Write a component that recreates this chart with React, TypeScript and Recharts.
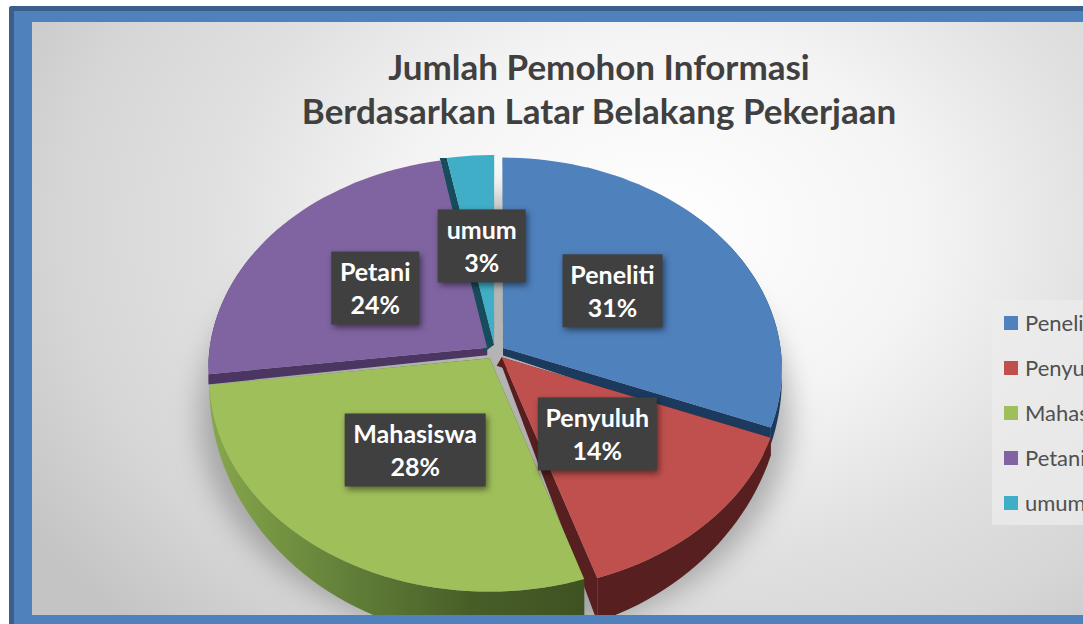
import React from "react";
import { PieChart, Pie, Legend } from "recharts";

const categories = ["Peneliti", "Penyuluh", "Mahasiswa", "Petani", "umum"];
const values = [31, 14, 28, 24, 3];
const topColors = ["#4f81bd", "#c0504d", "#9fbf5b", "#8064a2", "#41aec8"];
const wallColors = ["#1c3a5e", "#571f20", "url(#greenWall)", "#4a3660", "#164c5c"];
const labelBoxWidths = [100, 119, 141, 88, 88];
const labelNudgeX = [-2, -3.5, 3.5, -3, 0];
const labelNudgeY = [0, -3, -1, 0, 0];
const apexWallShift = [0, -5, 0, 0, -10];
const tipWallShift = [0, 0, 0, 0, -7];
const titleLines = ["Jumlah Pemohon Informasi", "Berdasarkan Latar Belakang Pekerjaan"];

const data = categories.map((name, i) => ({ name, value: values[i], fill: topColors[i] }));

const FONT = "Lato, 'Open Sans', sans-serif";
const TILT = 0.7536; // vertical squash of the disc
const PERSPECTIVE = 0.097;
const EXPLODE = 0.035;
const DEPTH = 45;
const STEP = 2; // degrees between arc samples

type Pt = [number, number];

// Disc coordinates (u to the right, v toward the viewer) into screen pixels.
function project(cx: number, cy: number, R: number, u: number, v: number, down: boolean): Pt {
  const w = 1 - PERSPECTIVE * v;
  const t = Math.max(0, (v + 1) / 2);
  return [cx + (R * u) / w, cy + (R * TILT * v) / w + (down ? DEPTH * Math.pow(t, 2.5) : 0)];
}

function discPoint(theta: number, rho: number, mid: number): [number, number] {
  const a = (theta * Math.PI) / 180;
  const m = (mid * Math.PI) / 180;
  return [rho * Math.sin(a) + EXPLODE * Math.sin(m), -rho * Math.cos(a) - EXPLODE * Math.cos(m)];
}

function pathOf(points: Pt[]): string {
  return "M" + points.map((p) => `${p[0].toFixed(2)},${p[1].toFixed(2)}`).join("L") + "Z";
}

function sampleAngles(t0: number, t1: number): number[] {
  const out: number[] = [];
  for (let t = t0; t < t1; t += STEP) out.push(t);
  out.push(t1);
  return out;
}

function sliceGeometry(props: any) {
  const { cx, cy, outerRadius, startAngle, endAngle } = props;
  const t0 = 90 - startAngle;
  const t1 = 90 - endAngle;
  const mid = (t0 + t1) / 2;
  const angles = sampleAngles(t0, t1);
  const at = (theta: number, rho: number, down: boolean): Pt => {
    const [u, v] = discPoint(theta, rho, mid);
    return project(cx, cy, outerRadius, u, v, down);
  };
  return { t0, t1, mid, angles, at };
}

function TopSlice(props: any) {
  const { angles, at, t0 } = sliceGeometry(props);
  const pts: Pt[] = [at(t0, 0, false), ...angles.map((t) => at(t, 1, false))];
  return <path d={pathOf(pts)} fill={props.fill} stroke="none" />;
}

function WallSlice(props: any) {
  const { angles, at, t0, t1 } = sliceGeometry(props);
  const i = categories.indexOf(props.name ?? props.payload?.name);
  const fill = wallColors[i];
  const outer: Pt[] = [
    ...angles.map((t) => at(t, 1, false)),
    ...[...angles].reverse().map((t) => at(t, 1, true)),
  ];
  const apexDown = at(t0, 0, true);
  const tipDown = at(t0, 1, true);
  const startWall: Pt[] = [
    at(t0, 0, false),
    at(t0, 1, false),
    [tipDown[0] + tipWallShift[i], tipDown[1]],
    [apexDown[0] + apexWallShift[i], apexDown[1]],
  ];
  const endWall: Pt[] = [at(t1, 0, false), at(t1, 1, false), at(t1, 1, true), at(t1, 0, true)];
  return (
    <g>
      <defs>
        <linearGradient id="greenWall" gradientUnits="userSpaceOnUse" x1={175} y1={0} x2={550} y2={0}>
          <stop offset="0" stopColor="#87a84b" />
          <stop offset="0.35" stopColor="#64823a" />
          <stop offset="0.7" stopColor="#485e28" />
          <stop offset="1" stopColor="#3f5322" />
        </linearGradient>
      </defs>
      <path d={pathOf(outer)} fill={fill} stroke="none" />
      <path d={pathOf(startWall)} fill={fill} stroke="none" />
      <path d={pathOf(endWall)} fill={fill} stroke="none" />
    </g>
  );
}

function renderLabel(props: any) {
  const { cx, cy, outerRadius, midAngle, percent, name } = props;
  const mid = 90 - midAngle;
  const [u, v] = discPoint(mid, 0.5, mid);
  const i = categories.indexOf(name);
  const [px, py] = project(cx, cy, outerRadius, u, v, false);
  const x = px + labelNudgeX[i];
  const y = py + labelNudgeY[i];
  const width = labelBoxWidths[i];
  const height = 73;
  return (
    <g key={name}>
      <rect
        x={x - width / 2}
        y={y - height / 2}
        width={width}
        height={height}
        fill="#404040"
        style={{ filter: "drop-shadow(2px 3px 3px rgba(0,0,0,0.5))" }}
      />
      <text x={x} y={y - 7} textAnchor="middle" fill="#ffffff" fontFamily={FONT} fontWeight={700} fontSize={25}>
        {name}
      </text>
      <text x={x} y={y + 26} textAnchor="middle" fill="#ffffff" fontFamily={FONT} fontWeight={700} fontSize={25}>
        {`${Math.round(percent * 100)}%`}
      </text>
    </g>
  );
}

function LegendBox(props: any) {
  const raw: any[] = props.payload ?? [];
  const items = categories.map((name) => raw.find((p) => p.value === name)).filter(Boolean);
  return (
    <div
      style={{
        width: 91,
        height: 225,
        background: "rgba(236,236,236,0.75)",
        overflow: "hidden",
      }}
    >
      {items.map((item: any) => (
        <div
          key={item.value}
          style={{
            height: 45,
            display: "flex",
            alignItems: "center",
            whiteSpace: "nowrap",
            fontFamily: FONT,
            fontSize: 22,
            color: "#505050",
          }}
        >
          <span style={{ width: 14, height: 14, marginLeft: 12, marginRight: 7, flex: "none", background: item.color }} />
          <span>{item.value}</span>
        </div>
      ))}
    </div>
  );
}

export default function App() {
  return (
    <div style={{ position: "absolute", left: 0, top: 0, width: 1083, height: 624, background: "#ffffff", overflow: "hidden" }}>
      <div
        style={{
          position: "absolute",
          left: 9,
          top: 6,
          width: 1074,
          height: 618,
          background: "#4f81bd",
          borderTop: "5px solid #3a5f8e",
          borderLeft: "5px solid #3a5f8e",
          borderTopLeftRadius: 3,
          boxSizing: "border-box",
        }}
      />
      <div
        style={{
          position: "absolute",
          left: 32,
          top: 22,
          width: 1051,
          height: 593,
          overflow: "hidden",
          background: "radial-gradient(ellipse 750px 560px at 60% 35%, #ffffff 0%, #f4f4f4 35%, #e0e0e0 60%, #d6d6d6 80%, #c4c4c4 100%)",
        }}
      >
        <div
          style={{
            position: "absolute",
            left: 168,
            top: 175,
            width: 590,
            height: 440,
            borderRadius: "50%",
            background: "rgba(90,90,90,0.42)",
            filter: "blur(14px)",
          }}
        />
        <div
          style={{
            position: "absolute",
            left: 0,
            top: 22,
            width: 1134,
            textAlign: "center",
            fontFamily: FONT,
            fontWeight: 700,
            fontSize: 35,
            lineHeight: "44px",
            color: "#404040",
          }}
        >
          {titleLines.map((line) => (
            <div key={line}>{line}</div>
          ))}
        </div>
        <div style={{ position: "absolute", left: 0, top: 0 }}>
          <PieChart width={1051} height={593} margin={{ top: 0, right: 0, bottom: 0, left: 0 }}>
            <Pie
              data={data}
              dataKey="value"
              nameKey="name"
              cx={463}
              cy={330}
              outerRadius={278}
              startAngle={90}
              endAngle={-270}
              paddingAngle={0}
              stroke="none"
              legendType="none"
              isAnimationActive={false}
              shape={WallSlice}
            />
            <Pie
              data={data}
              dataKey="value"
              nameKey="name"
              cx={463}
              cy={330}
              outerRadius={278}
              startAngle={90}
              endAngle={-270}
              paddingAngle={0}
              stroke="none"
              isAnimationActive={false}
              shape={TopSlice}
              label={renderLabel}
              labelLine={false}
            />
            <Legend
              content={LegendBox}
              layout="vertical"
              wrapperStyle={{ position: "absolute", left: 960, top: 278, width: 91, height: 225, bottom: "auto", right: "auto" }}
            />
          </PieChart>
        </div>
      </div>
    </div>
  );
}
